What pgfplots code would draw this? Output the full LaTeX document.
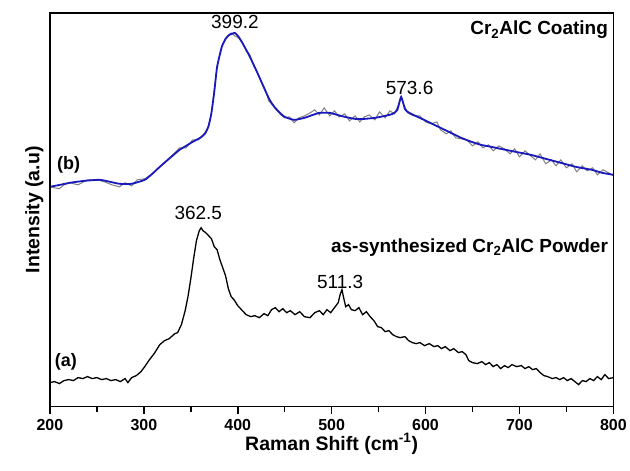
\documentclass[border=0pt]{standalone}
\usepackage{pgfplots}
\pgfplotsset{compat=1.18}
\usepackage{fontspec}
\setmainfont{Liberation Sans}
\definecolor{curveblue}{RGB}{25,25,190}
\begin{document}
\begin{tikzpicture}
\begin{axis}[
  scale only axis, width=564pt, height=394pt,
  xmin=200, xmax=800, ymin=0, ymax=394,
  xtick={200,300,400,500,600,700,800},
  minor x tick num=1,
  ytick=\empty,
  xtick pos=bottom,
  tick align=outside,
  major tick length=7pt, minor tick length=5pt,
  xtick style={black, line width=1.6pt},
  axis line style={line width=1.6pt},
  /pgf/number format/assume math mode=true,
  /pgf/number format/1000 sep={},
  ticklabel style={font=\fontsize{16}{19}\selectfont\bfseries},
  xticklabel style={yshift=-2pt},
  xlabel={\fontsize{19.5}{22}\selectfont\bfseries Raman Shift (cm\textsuperscript{-1})},
  ylabel={\fontsize{19.5}{22}\selectfont\bfseries Intensity (a.u)},
  xlabel style={yshift=4pt},
  ylabel style={yshift=-4pt},
  clip=false,
]
% gray raw curve (b)
\addplot[gray, line width=1pt] coordinates {
(200,220) (210,218) (215,222) (221,224) (230,222) (240,227) (250,227) (258,225) (266,222) (274,220) (280,224) (287,221) (293,227) (301,228) (309,233) (317,240) (325,247) (333,254) (338,259) (345,259) (352,267) (358,267) (364,273) (368,278) (372,294) (378,340) (383,361) (389,371) (393,374) (397,371) (401,369) (405,364) (409,357) (413,352) (417,341) (421,334) (425,325) (429,318) (433,306) (437,302) (441,297) (446,292) (450,289) (455,290) (460,284) (465,289) (471,291) (477,294) (482,297) (487,292) (492,299) (498,291) (503,296) (508,290) (514,293) (519,286) (525,291) (530,285) (535,290) (540,292) (546,287) (551,295) (557,289) (562,296) (567,293) (571,302) (574,310) (577,302) (581,294) (587,291) (594,291) (600,285) (606,283) (612,285) (616,277) (622,273) (627,276) (632,269) (638,268) (644,267) (650,261) (656,265) (661,259) (667,262) (672,256) (678,261) (684,258) (690,253) (695,258) (700,250) (706,256) (712,251) (717,247) (722,253) (728,243) (734,247) (739,241) (744,247) (750,239) (756,243) (761,235) (767,241) (772,236) (778,239) (783,232) (789,237) (795,234) (800,231)
};
% smoothed blue curve (b)
\addplot[curveblue, line width=1.8pt, smooth, tension=0.3] coordinates {
(200,220) (211,222) (221,224) (237,226) (253,227) (264,225) (274,223) (287,223) (301,227) (309,233) (317,240) (328,249) (338,257) (345,261) (352,265) (360,269) (365,273) (369,281) (372,294) (375,315) (378,340) (383,360) (387,368) (391,372) (397,374) (401,370) (405,364) (409,357) (413,350) (421,334) (429,317) (434,307) (439,300) (445,294) (450,290) (460,287) (471,289) (480,292) (487,294) (498,294) (506,292) (514,290) (525,288) (535,288) (546,289) (557,291) (565,293) (570,297) (574,310) (578,298) (581,295) (587,292) (594,289) (605,284) (616,279) (627,274) (638,269) (649,265) (659,262) (670,260) (680,258) (696,255) (712,252) (728,248) (744,244) (760,240) (777,237) (788,234) (800,232)
};
% black curve (a)
\addplot[black, line width=1.3pt] coordinates {
(200,24) (205,25) (210,23) (215,26) (220,27) (225,26) (230,29) (235,28) (240,30) (245,28) (250,29) (255,27) (260,28) (265,26) (270,27) (275,25) (280,28) (283,24) (287,29) (292,31) (297,35) (301,40) (306,47) (311,53) (317,62) (322,66) (327,68) (333,73) (336,74) (340,82) (344,96) (347,110) (350,128) (353,148) (356,166) (359,176) (361,179) (363,176) (366,174) (369,171) (372,168) (375,160) (378,157) (381,147) (384,139) (387,131) (390,118) (393,110) (396,107) (400,101) (404,97) (409,92) (414,90) (418,91) (423,89) (428,93) (432,91) (436,97) (440,99) (444,95) (448,98) (452,94) (456,96) (461,92) (466,95) (471,90) (477,89) (482,94) (487,96) (491,92) (495,97) (499,94) (503,99) (507,104) (509,112) (511,117) (513,108) (515,100) (518,102) (521,97) (525,96) (529,99) (533,92) (537,95) (541,90) (545,86) (549,80) (553,79) (557,75) (561,76) (565,72) (569,70) (573,69) (578,70) (582,66) (586,64) (590,63) (594,64) (599,61) (604,63) (609,60) (613,61) (617,58) (621,60) (626,56) (630,58) (635,54) (639,55) (643,52) (646,46) (650,44) (655,43) (660,45) (664,42) (668,44) (672,40) (676,42) (680,38) (684,41) (688,39) (692,42) (697,40) (702,41) (706,38) (710,40) (714,37) (718,38) (722,34) (726,31) (730,30) (735,28) (739,29) (743,27) (747,29) (751,26) (755,28) (759,25) (763,22) (767,26) (771,25) (775,28) (779,26) (783,30) (787,27) (791,32) (795,28) (800,29)
};
\node[font=\fontsize{19}{22}\selectfont] at (axis cs:397,385) {399.2};
\node[font=\fontsize{19}{22}\selectfont] at (axis cs:583,319) {573.6};
\node[font=\fontsize{19}{22}\selectfont] at (axis cs:358,194) {362.5};
\node[font=\fontsize{19}{22}\selectfont] at (axis cs:509,125) {511.3};
\node[font=\fontsize{18}{21}\selectfont\bfseries] at (axis cs:220,242) {(b)};
\node[font=\fontsize{18}{21}\selectfont\bfseries] at (axis cs:217,45) {(a)};
\node[font=\fontsize{19}{22}\selectfont\bfseries, anchor=east] at (axis cs:798,377) {Cr\textsubscript{2}AlC Coating};
\node[font=\fontsize{19}{22}\selectfont\bfseries, anchor=east] at (axis cs:798,159) {as-synthesized Cr\textsubscript{2}AlC Powder};
\end{axis}
\draw[black, line width=1.6pt] (current axis.south west) rectangle (current axis.north east);
\path (current axis.south west) ++(-50pt,-64pt) coordinate (bbl);
\path (current axis.north east) ++(16pt,13pt) coordinate (btr);
\path (bbl) rectangle (btr);
\end{tikzpicture}
\end{document}
